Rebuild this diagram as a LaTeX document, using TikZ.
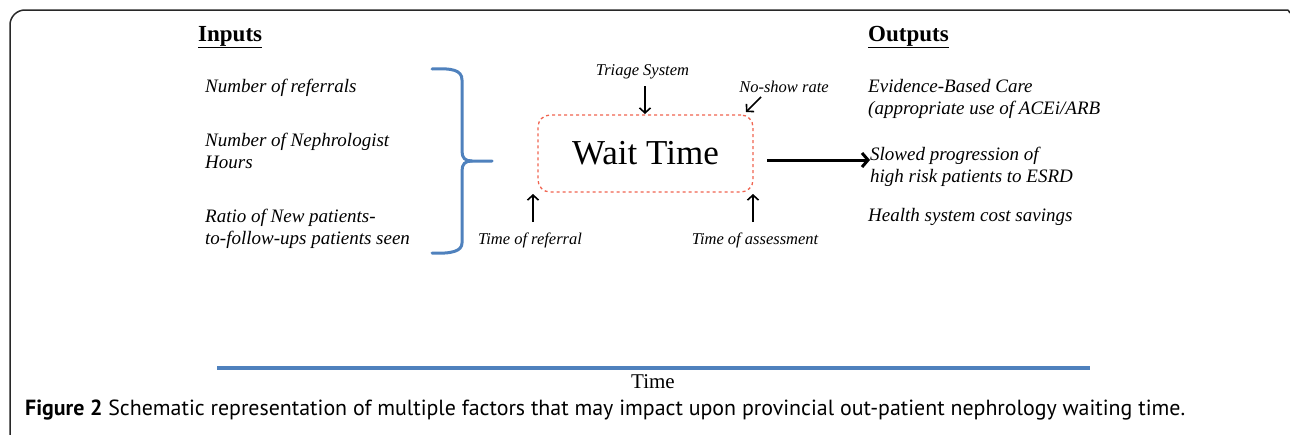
\documentclass[tikz,border=0pt]{standalone}
\usepackage{fontspec}
\setmainfont{Liberation Serif}
\newfontfamily\capfont{PT Sans}
\usetikzlibrary{arrows.meta}
\definecolor{braceblue}{RGB}{79,129,189}
\definecolor{dashred}{RGB}{240,100,80}
\definecolor{framegray}{RGB}{40,40,40}
\tikzset{
  itxt/.style={anchor=west, align=left, inner sep=0pt, font=\fontsize{19}{22}\selectfont\itshape},
  stxt/.style={inner sep=0pt, font=\fontsize{16.5}{19}\selectfont\itshape},
  head/.style={anchor=west, inner sep=0pt, font=\fontsize{23}{26}\selectfont\bfseries},
  parr/.style={line width=1.6pt, -{Straight Barb[length=5pt,width=11pt]}},
  bigarr/.style={line width=3pt, -{Straight Barb[length=6pt,width=14pt]}},
  bluebrace/.style={draw=braceblue, line width=3pt, line cap=round},
}
\begin{document}
\begin{tikzpicture}[x=1pt,y=-1pt]
\useasboundingbox (0,0) rectangle (1290,434);
% frame
\draw[framegray, line width=1.5pt, rounded corners=15pt] (10,440) -- (10,10) -- (1288,10);
\draw[framegray, line width=1.5pt] (1288,10) -- (1290,13);
% headings
\node[head] (inputs) at (198,37) {\underline{Inputs}};
\node[head] (outputs) at (868,37) {\underline{Outputs}};
% inputs
\node[itxt] (in1) at (205,88) {Number of referrals};
\node[itxt] (in2) at (205,151) {Number of Nephrologist\\Hours};
\node[itxt] (in3) at (205,229) {Ratio of New patients-\\to-follow-ups patients seen};
% brace
\draw[bluebrace] (432,69) .. controls (452,68) and (462,70) .. (462,80) -- (462,151)
   .. controls (462,158) and (465,161) .. (472,161) -- (492,161);
\draw[bluebrace] (472,161) .. controls (465,161) and (462,164) .. (462,171) -- (462,243)
   .. controls (462,251) and (452,254) .. (432,253);
% wait time box
\node[draw=dashred, dashed, line width=1.3pt, rounded corners=12pt, minimum width=215pt, minimum height=77pt,
      font=\fontsize{35}{40}\selectfont] (wait) at (645.5,153.5) {Wait Time};
% side labels
\node[stxt] (triage) at (642.5,72) {Triage System};
\node[stxt] (noshow) at (784,87) {No-show rate};
\node[stxt] (tref) at (530,240) {Time of referral};
\node[stxt] (tass) at (755,240) {Time of assessment};
\coordinate (triEnd) at (645,114);
\coordinate (triStart) at (645,86);
\draw[parr] (triStart) -- (triEnd);
\coordinate (nsStart) at (761,97);
\coordinate (nsEnd) at (746,112);
\draw[parr] (nsStart) -- (nsEnd);
\coordinate (refStart) at (533,222);
\coordinate (refEnd) at (533,194);
\draw[parr] (refStart) -- (refEnd);
\coordinate (assStart) at (753,222);
\coordinate (assEnd) at (753,194);
\draw[parr] (assStart) -- (assEnd);
% outputs
\node[itxt] (out1) at (868,99) {Evidence-Based Care\\(appropriate use of ACEi/ARB};
\node[itxt] (out2) at (870,167) {Slowed progression of\\high risk patients to ESRD};
\node[itxt] (out3) at (868,217) {Health system cost savings};
\coordinate (bigStart) at (767,160);
\draw[bigarr] (bigStart) -- (out2.west |- bigStart);
% time axis
\coordinate (tl) at (217,368);
\coordinate (tr) at (1090,368);
\draw[braceblue, line width=4pt] (tl) -- (tr);
\node[inner sep=0pt, font=\fontsize{21}{23}\selectfont] (timelbl) at (653,382) {Time};
% caption
\node[anchor=west, inner sep=0pt, font=\capfont\fontsize{21.9}{26}\selectfont] (cap) at (25,410)
  {\textbf{Figure 2} Schematic representation of multiple factors that may impact upon provincial out-patient nephrology waiting time.};
\end{tikzpicture}
\end{document}
